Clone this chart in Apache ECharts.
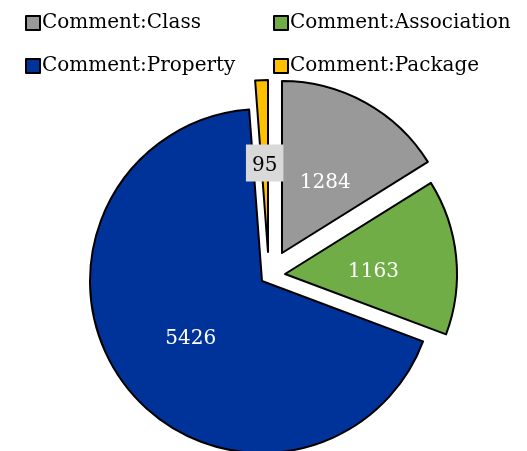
<!DOCTYPE html>
<html>
<head>
<meta charset="utf-8">
<script src="https://cdn.jsdelivr.net/npm/echarts@6/dist/echarts.min.js"></script>
<style>
  html, body { margin: 0; padding: 0; background: #fff; }
  #chart { width: 527px; height: 451px; }
</style>
</head>
<body>
<div id="chart"></div>
<script>
var names = ['Comment:Class', 'Comment:Association', 'Comment:Property', 'Comment:Package'];
var values = [1284, 1163, 5426, 95];
var colors = ['#999999', '#70AD47', '#003399', '#FFC000'];
var labelColors = ['#fff', '#fff', '#fff', '#000'];
// each slice is pulled out by its own amount, so each gets its own centre
var centers = [[282, 253], [285, 274], [262, 281], [268, 252]];
// push label text down a little (old-style figures in the original)
var labelDrop = [16, 13, 8, 8];

var font = 'DejaVu Serif';

function buildSeries(k) {
    var data = names.map(function (n, i) {
        var show = i === k;
        return {
            name: n,
            value: values[i],
            itemStyle: show ? { color: colors[i], borderColor: '#000', borderWidth: 2 }
                            : { color: 'rgba(0,0,0,0)', borderWidth: 0 },
            label: { show: show }
        };
    });
    var boxed = k === 3;
    return {
        type: 'pie',
        center: centers[k],
        radius: 172,
        startAngle: 90,
        clockwise: true,
        silent: true,
        avoidLabelOverlap: false,
        label: {
            position: 'inside',
            formatter: '{v|{c}}',
            backgroundColor: boxed ? '#D9D9D9' : 'transparent',
            padding: boxed ? [6, 6, 6, 6] : 0,
            rich: {
                v: {
                    fontFamily: font,
                    fontSize: 20,
                    color: labelColors[k],
                    padding: boxed ? [5, 0, 0, 0] : [labelDrop[k], 0, 0, 0]
                }
            }
        },
        labelLine: { show: false },
        emphasis: { disabled: true },
        data: data
    };
}

function legendData(idx) {
    return idx.map(function (i) {
        return { name: names[i], itemStyle: { color: colors[i], borderColor: '#000', borderWidth: 2 } };
    });
}

function legendAt(left, idx) {
    return {
        orient: 'vertical',
        left: left,
        top: 13,
        padding: 0,
        itemGap: 23,
        itemWidth: 14,
        itemHeight: 14,
        icon: 'rect',
        textStyle: { fontFamily: font, fontSize: 20, color: '#000', padding: [0, 0, 0, -3] },
        selectedMode: false,
        data: legendData(idx)
    };
}

var myChart = echarts.init(document.getElementById('chart'));
myChart.setOption({
    animation: false,
    legend: [legendAt(25, [0, 2]), legendAt(273, [1, 3])],
    series: [buildSeries(0), buildSeries(1), buildSeries(2), buildSeries(3)]
});
</script>
</body>
</html>
